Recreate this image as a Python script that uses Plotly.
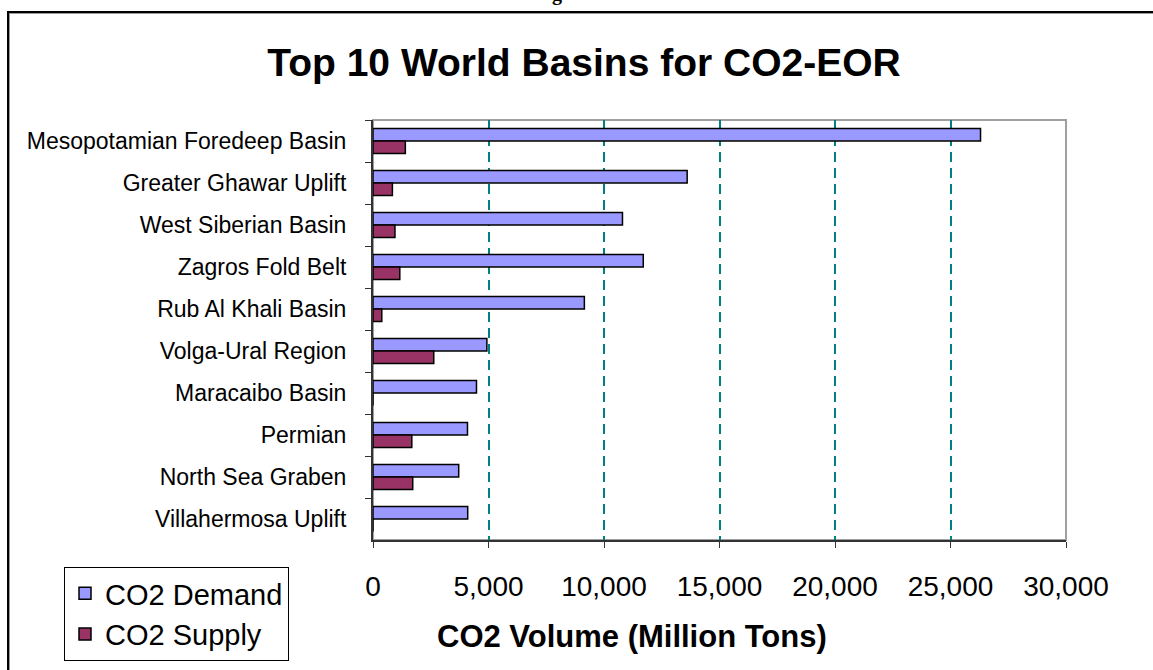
import plotly.graph_objects as go

# Basins, ordered top to bottom as listed
basins = [
    "Mesopotamian Foredeep Basin",
    "Greater Ghawar Uplift",
    "West Siberian Basin",
    "Zagros Fold Belt",
    "Rub Al Khali Basin",
    "Volga-Ural Region",
    "Maracaibo Basin",
    "Permian",
    "North Sea Graben",
    "Villahermosa Uplift",
]

# CO2 volumes in million tons
co2_demand = [26300, 13600, 10800, 11700, 9150, 4930, 4480, 4090, 3710, 4100]
co2_supply = [1400, 840, 950, 1160, 380, 2630, 0, 1680, 1720, 0]

x_ticks = [0, 5000, 10000, 15000, 20000, 25000, 30000]

W, H = 1153, 670
L, R, T, B = 373, 87, 120, 130
PW, PH = W - L - R, H - T - B


def px(x):
    return (x - L) / PW


def py(y):
    return (H - B - y) / PH


FONT = "Arial, Liberation Sans, sans-serif"

fig = go.Figure()
fig.add_trace(go.Bar(
    y=basins, x=co2_demand, orientation="h", name="CO2 Demand",
    marker=dict(color="#9999FF", line=dict(color="black", width=1.5)),
))
fig.add_trace(go.Bar(
    y=basins, x=co2_supply, orientation="h", name="CO2 Supply",
    marker=dict(color="#993366", line=dict(color="black", width=1.5)),
))

shapes = [
    # outer frame with a soft shadow
    dict(type="rect", xref="paper", yref="paper",
         x0=px(9), x1=px(1175), y0=py(690), y1=py(13),
         line=dict(color="#9a9a9a", width=2), layer="below"),
    dict(type="rect", xref="paper", yref="paper",
         x0=px(8), x1=px(1175), y0=py(690), y1=py(12),
         line=dict(color="black", width=2), layer="below"),
    # plot area border
    dict(type="rect", xref="paper", yref="paper", x0=0, x1=1, y0=0, y1=1,
         line=dict(color="#a0a0a0", width=2), layer="below"),
]

annotations = [
    dict(text="<b>CO2 Volume (Million Tons)</b>", xref="paper", yref="paper",
         x=px(632), y=py(636), xanchor="center", yanchor="middle",
         showarrow=False, font=dict(family=FONT, size=31, color="black")),
    dict(text="<b>g</b>", xref="paper", yref="paper",
         x=px(557), y=py(-6), xanchor="center", yanchor="middle",
         showarrow=False, font=dict(family="Liberation Serif, serif", size=20, color="black")),
]

fig.update_layout(
    width=W, height=H,
    margin=dict(l=L, r=R, t=T, b=B, autoexpand=False),
    paper_bgcolor="white", plot_bgcolor="white",
    barmode="group", bargap=0.4, bargroupgap=0,
    title=dict(text="<b>Top 10 World Basins for CO2-EOR</b>",
               x=584 / W, y=1 - 62 / H, xanchor="center", yanchor="middle",
               font=dict(family=FONT, size=39, color="black")),
    xaxis=dict(range=[0, 30000], tickvals=x_ticks, tickformat=",d",
               showgrid=True, gridcolor="#008080", gridwidth=1.5, griddash="10px,6px",
               zeroline=False, showline=True, linecolor="#333333", linewidth=2,
               ticks="outside", ticklen=6, tickcolor="#333333",
               ticklabelstandoff=14,
               tickfont=dict(family=FONT, size=28, color="black")),
    yaxis=dict(type="category", categoryorder="array", categoryarray=basins,
               autorange="reversed", showgrid=False, zeroline=False,
               showline=True, linecolor="#333333", linewidth=2,
               ticks="outside", tickson="boundaries", ticklen=6, tickcolor="#333333",
               ticklabelstandoff=20,
               tickfont=dict(family=FONT, size=23, color="black")),
    legend=dict(x=px(64), y=py(567), xanchor="left", yanchor="top",
                bgcolor="white", bordercolor="black", borderwidth=1,
                font=dict(family=FONT, size=29, color="black"),
                traceorder="normal"),
    shapes=shapes,
    annotations=annotations,
)

fig.write_html("out.html")
